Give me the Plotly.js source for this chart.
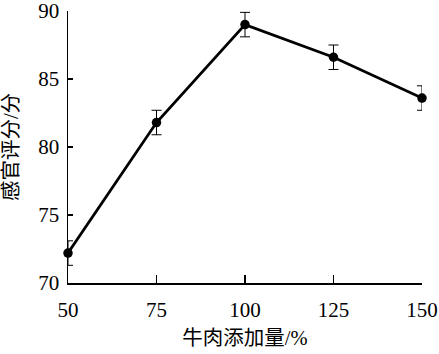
<!DOCTYPE html>
<html>
<head>
<meta charset="utf-8">
<script src="https://cdn.plot.ly/plotly-3.0.1.min.js"></script>
<style>html,body{margin:0;padding:0;background:#fff;}#chart{width:439px;height:354px;}</style>
</head>
<body>
<div id="chart"></div>
<script>
const beefAddition = [50, 75, 100, 125, 150];
const sensoryScore = [72.2, 81.8, 89.0, 86.6, 83.6];
const scoreError = [0.9, 0.9, 0.9, 0.9, 0.9];
const xTickValues = [50, 75, 100, 125, 150];
const yTickValues = [70, 75, 80, 85, 90];
const xTitle = '牛肉添加量/%';
const yTitle = '感官评分/分';

const fontFamily = '"Liberation Serif", "Times New Roman", "Noto Sans CJK SC", serif';

const trace = {
  x: beefAddition,
  y: sensoryScore,
  type: 'scatter',
  mode: 'lines+markers',
  line: {color: '#000', width: 2.8},
  marker: {color: '#000', size: 9.5, symbol: 'circle'},
  error_y: {type: 'data', array: scoreError, visible: true, color: '#000', thickness: 1, width: 5},
  cliponaxis: false,
  showlegend: false
};

const layout = {
  width: 439,
  height: 354,
  margin: {l: 68, r: 17, t: 11, b: 71},
  paper_bgcolor: '#fff',
  plot_bgcolor: '#fff',
  font: {family: fontFamily, size: 21, color: '#000'},
  xaxis: {
    range: [50, 150],
    tickvals: xTickValues,
    ticktext: xTickValues.map(String),
    ticks: 'inside',
    ticklen: 8,
    tickwidth: 1.2,
    tickcolor: '#000',
    showline: true,
    linecolor: '#000',
    linewidth: 1.5,
    showgrid: false,
    zeroline: false,
    ticklabelstandoff: 7,
    ticklabeloverflow: 'allow',
    tickfont: {family: fontFamily, size: 21, color: '#000'},
    title: {text: xTitle, font: {family: fontFamily, size: 20.5, color: '#000'}, standoff: 10}
  },
  yaxis: {
    range: [70, 90],
    tickvals: yTickValues,
    ticktext: yTickValues.map(String),
    ticks: 'inside',
    ticklen: 5,
    tickwidth: 1.2,
    tickcolor: '#000',
    showline: true,
    linecolor: '#000',
    linewidth: 1.5,
    showgrid: false,
    zeroline: false,
    ticklabelstandoff: 3,
    ticklabeloverflow: 'allow',
    tickfont: {family: fontFamily, size: 21, color: '#000'},
    title: {text: yTitle, font: {family: fontFamily, size: 20.5, color: '#000'}, standoff: 16}
  }
};

Plotly.newPlot('chart', [trace], layout, {displayModeBar: false, staticPlot: true});
</script>
</body>
</html>
